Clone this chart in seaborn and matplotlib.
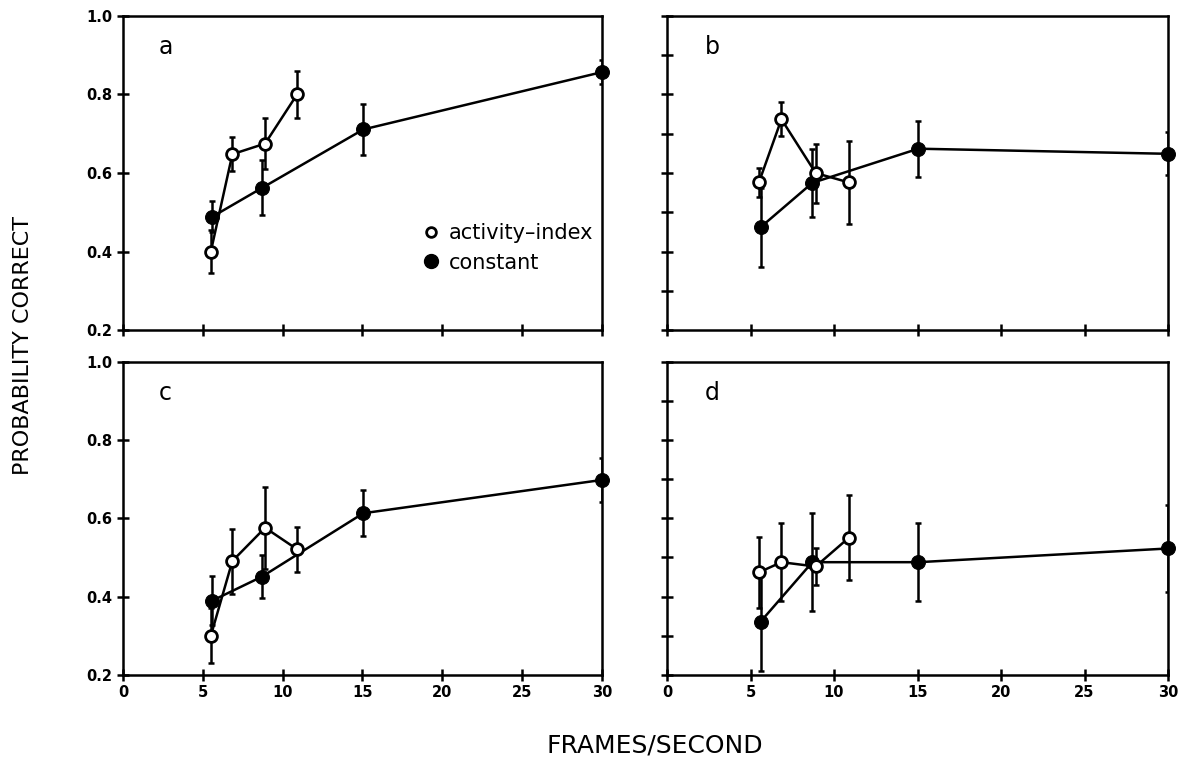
import numpy as np
import pandas as pd
import matplotlib
matplotlib.use("Agg")
import matplotlib.pyplot as plt
import seaborn as sns

# Dados (painéis a-d)
PANELS = ["a", "b", "c", "d"]

# activity-index (círculos abertos)
act_x = [5.5, 6.85, 8.9, 10.9]
act_y = {
    "a": [0.40, 0.648, 0.675, 0.80],
    "b": [0.576, 0.737, 0.600, 0.576],
    "c": [0.300, 0.491, 0.576, 0.521],
    "d": [0.462, 0.488, 0.477, 0.551],
}
act_err = {
    "a": [0.055, 0.043, 0.065, 0.061],
    "b": [0.038, 0.043, 0.075, 0.105],
    "c": [0.07, 0.083, 0.105, 0.057],
    "d": [0.09, 0.10, 0.048, 0.109],
}

# constant (círculos cheios)
con_x = [5.6, 8.7, 15.05, 30.0]
con_y = {
    "a": [0.489, 0.562, 0.711, 0.857],
    "b": [0.462, 0.575, 0.662, 0.649],
    "c": [0.390, 0.451, 0.613, 0.698],
    "d": [0.336, 0.488, 0.488, 0.523],
}
con_err = {
    "a": [0.04, 0.07, 0.064, 0.03],
    "b": [0.10, 0.087, 0.071, 0.055],
    "c": [0.063, 0.055, 0.059, 0.056],
    "d": [0.125, 0.125, 0.10, 0.11],
}

x_ticks = [0, 5, 10, 15, 20, 25, 30]
y_ticks = [0.2, 0.4, 0.6, 0.8, 1.0]

sns.set_style("ticks")
plt.rcParams['font.family'] = ['DejaVu Sans']
plt.rcParams.update({
    "text.color": "black",
    "axes.edgecolor": "black",
    "xtick.color": "black",
    "ytick.color": "black",
    "axes.labelcolor": "black",
})

fig = plt.figure(figsize=(11.85, 7.59), dpi=100)
boxes = {
    "a": [0.1038, 0.565, 0.4042, 0.414],
    "b": [0.5629, 0.565, 0.4228, 0.414],
    "c": [0.1038, 0.1107, 0.4042, 0.4128],
    "d": [0.5629, 0.1107, 0.4228, 0.4128],
}

for p in PANELS:
    ax = fig.add_axes(boxes[p])
    df_act = pd.DataFrame({"fps": act_x, "prob": act_y[p]})
    df_con = pd.DataFrame({"fps": con_x, "prob": con_y[p]})

    ax.errorbar(act_x, act_y[p], yerr=act_err[p], fmt="none", ecolor="black",
                elinewidth=1.8, capsize=2.5, capthick=1.8, zorder=2)
    ax.errorbar(con_x, con_y[p], yerr=con_err[p], fmt="none", ecolor="black",
                elinewidth=1.8, capsize=2.5, capthick=1.8, zorder=2)

    sns.lineplot(data=df_con, x="fps", y="prob", ax=ax, sort=False, color="black",
                 linewidth=1.8, marker="o", markersize=10, markerfacecolor="black",
                 markeredgecolor="black", zorder=3, clip_on=False)
    sns.lineplot(data=df_act, x="fps", y="prob", ax=ax, sort=False, color="black",
                 linewidth=1.8, marker="o", markersize=8.5, markerfacecolor="white",
                 markeredgecolor="black", markeredgewidth=2, zorder=4, clip_on=False)

    ax.set_xlim(0, 30)
    ax.set_ylim(0.2, 1.0)
    ax.set_xlabel("")
    ax.set_ylabel("")
    ax.set_xticks(x_ticks)
    if p in ("a", "c"):
        ax.set_yticks(y_ticks)
        ax.set_yticklabels([f"{v:.1f}" for v in y_ticks])
    else:
        ax.set_yticks(np.arange(0.2, 1.01, 0.1))
        ax.set_yticklabels([])
    if p in ("a", "b"):
        ax.set_xticklabels([])
    else:
        ax.set_xticklabels([str(v) for v in x_ticks])

    ax.tick_params(direction="inout", length=9, width=1.8, labelsize=10.5, pad=3)
    for lab in ax.get_xticklabels() + ax.get_yticklabels():
        lab.set_fontweight("bold")
    for s in ax.spines.values():
        s.set_visible(True)
        s.set_linewidth(1.8)

    ax.text(0.075, 0.9, p, transform=ax.transAxes, fontsize=17, va="center")

    if p == "a":
        ax.plot([], [], "o", color="black", markerfacecolor="white",
                markeredgewidth=2, markersize=7, label="activity\u2013index")
        ax.plot([], [], "o", color="black", markersize=10, label="constant")
        handles, labels = ax.get_legend_handles_labels()
        ax.legend(handles[-2:], labels[-2:], loc="center left",
                  bbox_to_anchor=(0.625, 0.262), frameon=False, fontsize=15,
                  handletextpad=0.45, labelspacing=0.45, handlelength=0.8,
                  borderpad=0, borderaxespad=0)

fig.text(0.019, 0.545, "PROBABILITY CORRECT", rotation=90, fontsize=16,
         va="center", ha="center")
fig.text(0.553, 0.018, "FRAMES/SECOND", fontsize=18, ha="center", va="center")

fig.savefig("out.png", dpi=100)
